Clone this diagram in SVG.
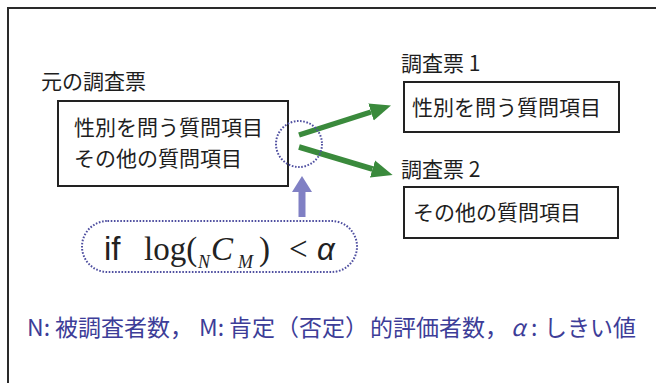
<svg xmlns="http://www.w3.org/2000/svg" width="656" height="383" viewBox="0 0 656 383">
<style>
.jp{font-family:"Noto Sans CJK JP","Liberation Sans",sans-serif;font-size:21px;fill:#1e1e1e}
.box{fill:#fff;stroke:#222;stroke-width:2}
.dot{fill:none;stroke:#4f4fa0;stroke-width:2;stroke-dasharray:1.6 1.6}
.green{stroke:#3a8a3c;stroke-width:5.5;fill:none}
.purple{stroke:#8080c4;stroke-width:7;fill:none}
.serif{font-family:"Liberation Serif",serif}
.note{font-family:"Noto Sans CJK JP","Liberation Sans",sans-serif;font-size:23px;fill:#3d3d98}
</style>
<defs>
<marker id="gh" markerUnits="userSpaceOnUse" markerWidth="24" markerHeight="20" refX="0" refY="10" orient="auto" viewBox="0 0 24 20">
<path d="M0,1 L21,10 L0,19 z" fill="#3a8a3c"/>
</marker>
<marker id="ph" markerUnits="userSpaceOnUse" markerWidth="18" markerHeight="22" refX="0" refY="11" orient="auto" viewBox="0 0 18 22">
<path d="M0,1 L16,11 L0,21 z" fill="#8080c4"/>
</marker>
</defs>
<rect x="0" y="0" width="656" height="383" fill="#fff"/>
<rect x="8" y="8" width="660" height="390" fill="none" stroke="#2a2a2a" stroke-width="2"/>

<g id="original">
<text class="jp" x="41" y="89">元の調査票</text>
<rect class="box" x="58" y="101" width="230" height="85"/>
<text class="jp" x="74" y="135">性別を問う質問項目</text>
<text class="jp" x="74" y="166">その他の質問項目</text>
</g>

<g id="survey1">
<text class="jp" x="401" y="71">調査票 1</text>
<rect class="box" x="404" y="82" width="215" height="50"/>
<text class="jp" x="412" y="115">性別を問う質問項目</text>
</g>

<g id="survey2">
<text class="jp" x="401" y="177">調査票 2</text>
<rect class="box" x="404" y="187" width="214" height="51"/>
<text class="jp" x="413" y="220">その他の質問項目</text>
</g>

<g id="connectors">
<line class="green" x1="299" y1="135" x2="371" y2="112" marker-end="url(#gh)"/>
<line class="green" x1="299" y1="147" x2="372.5" y2="169" marker-end="url(#gh)"/>
<line class="purple" x1="302" y1="217" x2="302" y2="192" marker-end="url(#ph)"/>
</g>

<g id="split-point">
<ellipse class="dot" cx="299" cy="144" rx="23" ry="23"/>
</g>

<g id="condition">
<rect class="dot" x="82" y="221" width="275" height="51" rx="25.5"/>
<text y="260" font-size="33" fill="#222">
<tspan x="104" font-family="Liberation Sans, sans-serif">if</tspan>
<tspan x="144" class="serif">log(</tspan>
<tspan x="198" y="268" class="serif" font-style="italic" font-size="18">N</tspan>
<tspan x="211" y="260" class="serif" font-style="italic">C</tspan>
<tspan x="238" y="268" class="serif" font-style="italic" font-size="18">M</tspan>
<tspan x="259" y="260" class="serif">)</tspan>
<tspan x="289" class="serif">&lt;</tspan>
<tspan x="317" font-family="Liberation Sans, sans-serif" font-style="italic" font-size="31">α</tspan>
</text>
</g>

<g id="legend">
<text class="note" y="336">
<tspan x="27">N:</tspan>
<tspan x="55">被調査者数，</tspan>
<tspan x="199">M:</tspan>
<tspan x="229">肯定</tspan>
<tspan x="276">（否定）</tspan>
<tspan x="370">的評価者数，</tspan>
<tspan x="511" font-style="italic">α</tspan>
<tspan x="531">:</tspan>
<tspan x="544">しきい値</tspan>
</text>
</g>
</svg>
